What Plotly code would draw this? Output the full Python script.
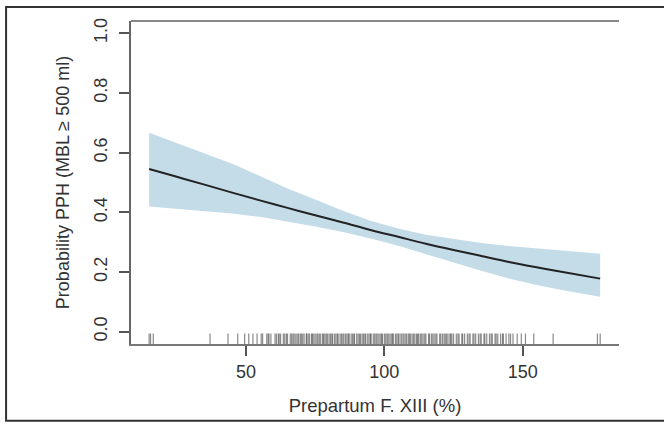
import plotly.graph_objects as go

# ---- data ----
x_vals = [15, 25, 35, 45, 55, 65, 75, 85, 95, 105, 115, 125, 135, 145, 155, 165, 178]
prob = [0.545, 0.519, 0.493, 0.466, 0.440, 0.415, 0.390, 0.366, 0.341, 0.318,
        0.295, 0.274, 0.254, 0.234, 0.216, 0.199, 0.178]
upper = [0.667, 0.632, 0.597, 0.563, 0.522, 0.480, 0.443, 0.405, 0.372, 0.346,
         0.325, 0.310, 0.297, 0.287, 0.279, 0.271, 0.261]
lower = [0.420, 0.412, 0.404, 0.396, 0.385, 0.370, 0.353, 0.334, 0.312, 0.288,
         0.260, 0.232, 0.204, 0.178, 0.157, 0.138, 0.117]

rug = [15, 15.5, 16.5, 37, 43.5, 47, 49.5, 51, 52.5, 54, 55.5, 56, 57.5, 58, 59,
       60.5, 61, 62, 62.5, 63.5, 64, 65, 66, 66.5, 67, 68, 68.5, 69, 70, 70.5, 71,
       72, 72.5, 73, 74, 74.5, 75, 76, 76.5, 77, 78, 78.5, 79, 80, 80.5, 81, 82,
       82.5, 83, 84, 84.5, 85, 86, 86.5, 87, 88, 88.5, 89, 90, 90.5, 91, 92, 92.5,
       93, 94, 94.5, 95, 96, 96.5, 97, 98, 98.5, 99, 100, 100.5, 101, 102, 102.5,
       103, 104, 104.5, 105, 106, 107, 107.5, 108, 109, 110, 110.5, 111, 112, 113,
       113.5, 114, 115, 116, 117, 117.5, 118, 119, 120, 121, 122, 122.5, 123, 124,
       125, 126, 127, 128, 129, 130, 131, 132, 133, 134, 135, 136, 137, 138, 139,
       140, 141, 142, 143, 144, 145, 146.5, 148, 149.5, 151, 154, 161, 177, 178,
       58.3, 61.7, 64.6, 67.4, 69.6, 71.8, 73.7, 75.6, 77.7, 79.4, 81.3, 83.3,
       85.4, 87.3, 89.2, 91.4, 93.3, 95.2, 97.4, 99.3, 101.4, 103.2, 105.3, 106.4,
       108.6, 109.4, 111.6, 112.4, 114.6, 116.3, 118.6, 120.4, 121.6, 123.7,
       124.4, 126.6, 128.3, 130.6, 132.4, 134.6, 136.3, 138.6, 140.4, 142.7, 145.6]

x_ticks = [50, 100, 150]
y_ticks = [0.0, 0.2, 0.4, 0.6, 0.8, 1.0]
y_tick_text = ["0.0", "0.2", "0.4", "0.6", "0.8", "1.0"]

X_RANGE = [8.44, 184.8]
Y_RANGE = [-0.041, 1.041]

FONT = "Liberation Sans, Arial, Helvetica, sans-serif"

fig = go.Figure()

# confidence band
fig.add_trace(go.Scatter(x=x_vals + x_vals[::-1], y=upper + lower[::-1],
                         fill="toself", fillcolor="#c4dce8",
                         line=dict(width=0), mode="lines", hoverinfo="skip",
                         showlegend=False))
# fitted line
fig.add_trace(go.Scatter(x=x_vals, y=prob, mode="lines",
                         line=dict(color="#222222", width=2, shape="spline"),
                         showlegend=False))
# rug
rx, ry = [], []
for v in rug:
    rx += [v, v, None]
    ry += [Y_RANGE[0], -0.006, None]
fig.add_trace(go.Scatter(x=rx, y=ry, mode="lines",
                         line=dict(color="rgba(60,60,60,0.6)", width=1.2),
                         hoverinfo="skip", showlegend=False))

fig.update_layout(
    width=664, height=425,
    margin=dict(l=131, r=45, t=21, b=79),
    paper_bgcolor="white", plot_bgcolor="white",
    font=dict(family=FONT, size=18, color="#333333"),
    xaxis=dict(range=X_RANGE, tickvals=x_ticks, ticks="outside", ticklen=10,
               tickwidth=1.5, tickcolor="#555555", showgrid=False, zeroline=False,
               showline=True, linecolor="#777777", linewidth=2,
               tickfont=dict(size=18, color="#333333"), ticklabelstandoff=0,
               title=dict(text="Prepartum F. XIII (%)", standoff=18,
                          font=dict(size=18.5, color="#333333"))),
    yaxis=dict(range=Y_RANGE, tickvals=y_ticks, ticktext=y_tick_text,
               ticks="outside", ticklen=10, tickwidth=1.5, tickcolor="#555555",
               tickangle=-90, showgrid=False, zeroline=False,
               showline=True, linecolor="#666666", linewidth=2,
               tickfont=dict(size=18, color="#333333"), ticklabelstandoff=5,
               title=dict(text="Probability PPH (MBL \u2265 500 ml)", standoff=16,
                          font=dict(size=18, color="#333333"))),
    shapes=[
        # top frame line of plot area
        dict(type="line", xref="paper", yref="paper", x0=0, x1=1, y0=1, y1=1,
             line=dict(color="#888888", width=2)),
        # outer figure border
        dict(type="rect", xref="paper", yref="paper",
             x0=-0.256, x1=1.10, y0=-0.238, y1=1.043,
             line=dict(color="#333333", width=2)),
    ],
)

fig.write_html("out.html", config={"displayModeBar": False},
               post_script="document.body.style.margin='0';")
